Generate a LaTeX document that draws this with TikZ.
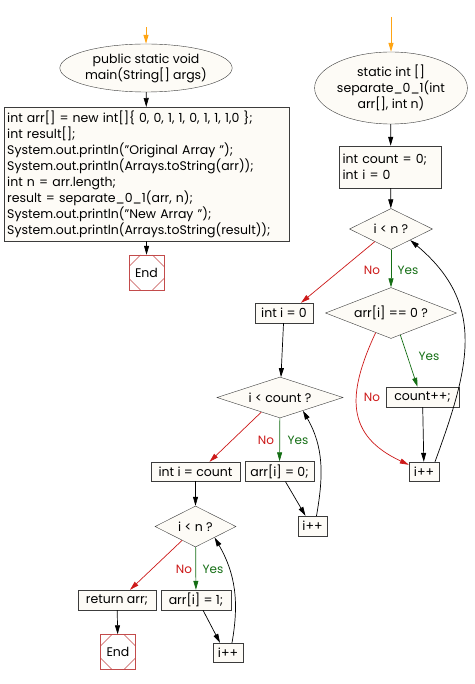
\documentclass[tikz,border=0pt]{standalone}
\usepackage{fontspec}
\setmainfont{Poppins}
\usepackage{tikz}
\usetikzlibrary{shapes.geometric,arrows.meta}
\definecolor{boxfill}{RGB}{253,251,246}
\definecolor{lineGray}{RGB}{60,60,60}
\definecolor{noRed}{RGB}{205,25,25}
\definecolor{yesGreen}{RGB}{20,110,20}
\definecolor{startOrange}{RGB}{255,165,20}
\definecolor{endRed}{RGB}{195,75,75}
\tikzset{
  >={Triangle[length=9pt,width=5pt]},
  txt/.style={font=\fontsize{12.5}{16}\selectfont},
  startnode/.style={ellipse, draw=lineGray, fill=boxfill, inner sep=0pt, align=center, txt},
  procbox/.style={rectangle, draw=lineGray, fill=boxfill, inner xsep=2pt, inner ysep=3pt, txt},
  decision/.style={diamond, draw=lineGray, fill=boxfill, inner sep=0pt, aspect=2, txt},
  endbox/.style={rectangle, draw=endRed, fill=white, minimum size=35pt, inner sep=0pt, txt,
    path picture={
      \draw[endRed] ([shift={(-6pt,17.5pt)}]path picture bounding box.center) -- ([shift={(-17.5pt,6pt)}]path picture bounding box.center);
      \draw[endRed] ([shift={(-17.5pt,-6pt)}]path picture bounding box.center) -- ([shift={(-6pt,-17.5pt)}]path picture bounding box.center);
      \draw[endRed] ([shift={(6pt,-17.5pt)}]path picture bounding box.center) -- ([shift={(17.5pt,-6pt)}]path picture bounding box.center);
      \draw[endRed] ([shift={(17.5pt,6pt)}]path picture bounding box.center) -- ([shift={(6pt,17.5pt)}]path picture bounding box.center);
    }},
  lbl/.style={font=\fontsize{12}{13}\selectfont, inner sep=0pt},
  flow/.style={->, line width=0.7pt, black},
  noflow/.style={->, line width=0.7pt, noRed},
  yesflow/.style={->, line width=0.7pt, yesGreen},
  startflow/.style={->, line width=1pt, startOrange},
}

\begin{document}
\begin{tikzpicture}[x=1pt,y=-1pt]
  \useasboundingbox[fill=white] (0,0) rectangle (474,684);

  % main
  \coordinate (oA) at (146,27);
  \node[startnode, minimum width=145, minimum height=48] (mainE) at (146,68) {public static void\\main(String[] args)};
  \node[procbox, anchor=north west, inner xsep=3pt, text width=279, minimum height=134, align=left] (code) at (4,107)
    {int arr[] = new int[]\{ 0, 0, 1, 1, 0, 1, 1, 1,0 \};\\
     int result[];\\
     System.out.println("Original Array ");\\
     System.out.println(Arrays.toString(arr));\\
     int n = arr.length;\\
     result = separate\_0\_1(arr, n);\\
     System.out.println("New Array ");\\
     System.out.println(Arrays.toString(result));};
  \node[endbox] (endA) at (146.5,272.5) {End};

  \draw[startflow] (oA) -- (mainE);
  \draw[flow] (mainE) -- (code);
  \draw[flow] (code) -- (endA);

  % separate_0_1
  \coordinate (oB) at (391,17);
  \node[startnode, minimum width=147, minimum height=72] (sepE) at (391,88) {static int []\\separate\_0\_1(int\\arr[], int n)};
  \node[procbox, minimum width=102, minimum height=42, text width=96, align=left] (initB) at (390.5,167) {int count = 0;\\int i = 0};
  \node[decision, minimum width=83, minimum height=41] (loopA) at (391,229) {i < n ?};
  \node[decision, minimum width=131, minimum height=42] (chkZ) at (391,313) {arr[i] == 0 ?};
  \node[procbox, minimum width=73, minimum height=20] (cntInc) at (422.5,397) {count++;};
  \node[procbox, minimum width=30, minimum height=19] (incA) at (424,471.5) {i++};

  \node[procbox, minimum width=58, minimum height=20] (setI0) at (284,313) {int i = 0};
  \node[decision, minimum width=126, minimum height=41] (loopB) at (280,397.5) {i < count ?};
  \node[procbox, minimum width=89, minimum height=19] (setCount) at (195.5,471.5) {int i = count};
  \node[procbox, minimum width=69, minimum height=19] (zeroA) at (279.5,471.5) {arr[i] = 0;};
  \node[procbox, minimum width=29, minimum height=20] (incB) at (312.5,526) {i++};

  \node[decision, minimum width=81, minimum height=41] (loopC) at (195.5,526.5) {i < n ?};
  \node[procbox, minimum width=78, minimum height=20] (retA) at (117,600) {return arr;};
  \node[procbox, minimum width=70, minimum height=20] (oneA) at (196,600) {arr[i] = 1;};
  \node[procbox, minimum width=30, minimum height=19] (incC) at (228,652.5) {i++};
  \node[endbox] (endB) at (118,652) {End};

  \node[lbl, text=noRed] (noA) at (372,270) {No};
  \node[lbl, text=yesGreen] (yesA) at (408,270) {Yes};
  \node[lbl, text=yesGreen] (yesZ) at (429,356) {Yes};
  \node[lbl, text=noRed] (noZ) at (372,397) {No};
  \node[lbl, text=noRed] (noB) at (266,440) {No};
  \node[lbl, text=yesGreen] (yesB) at (298,440) {Yes};
  \node[lbl, text=noRed] (noC) at (184,569) {No};
  \node[lbl, text=yesGreen] (yesC) at (213,569) {Yes};

  \draw[startflow] (oB) -- (sepE);
  \draw[flow] (sepE) -- (initB);
  \draw[flow] (initB) -- (loopA);
  \draw[yesflow] (loopA) -- (chkZ);
  \draw[yesflow] (chkZ.-67) -- ([xshift=-5pt]cntInc.north);
  \draw[noflow] (chkZ.-128) to[out=-115,in=155,looseness=1.3] ([yshift=-3pt]incA.north west);
  \draw[flow] (cntInc) -- (incA);
  \draw[flow] ([xshift=11pt]incA.north) to[out=70,in=-40,looseness=1.15] (loopA.-30);
  \draw[noflow] (loopA.-142) -- ([xshift=17pt]setI0.north);

  \draw[flow] (setI0) -- (loopB);
  \draw[yesflow] (loopB) -- (zeroA);
  \draw[noflow] (loopB.-142) -- ([xshift=14pt]setCount.north);
  \draw[flow] ([xshift=6pt]zeroA.south) -- ([xshift=-7pt]incB.north);
  \draw[flow] ([xshift=4pt]incB.north) to[out=80,in=-60] (loopB.-30);

  \draw[flow] (setCount) -- (loopC);
  \draw[yesflow] (loopC) -- (oneA);
  \draw[noflow] (loopC.-134) -- ([xshift=13pt]retA.north);
  \draw[flow] ([xshift=7pt]oneA.south) -- ([xshift=-8pt]incC.north);
  \draw[flow] ([xshift=4pt]incC.north) to[out=80,in=-60] (loopC.-30);
  \draw[flow] (retA) -- (endB);
\end{tikzpicture}
\end{document}
